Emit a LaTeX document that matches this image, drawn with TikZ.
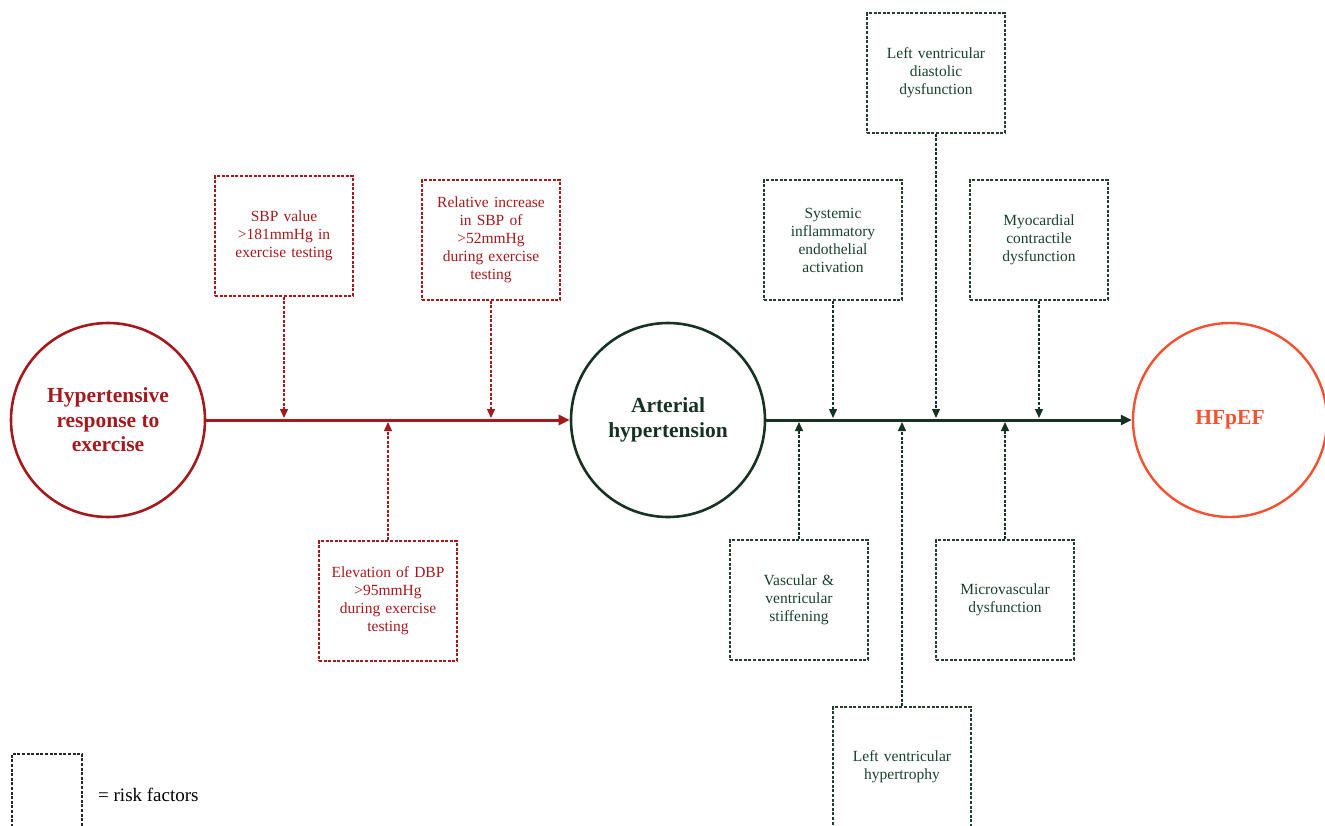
\documentclass[tikz,border=0pt]{standalone}
\usepackage{fontspec}
\setmainfont{Liberation Serif}
\usetikzlibrary{arrows.meta}
\definecolor{rd}{RGB}{163,26,30}
\definecolor{gr}{RGB}{22,50,34}
\definecolor{grt}{RGB}{24,64,44}
\definecolor{org}{RGB}{242,82,50}
\begin{document}
\begin{tikzpicture}[x=1pt,y=-1pt,
  big/.style={circle, draw, line width=2.6pt, minimum size=194pt, inner sep=0pt, align=center,
    font=\fontsize{21.5}{24.5}\selectfont\bfseries},
  rf/.style={draw, dash pattern=on 3pt off 1.6pt, line width=1.4pt, minimum width=138pt,
    minimum height=120pt, text width=128pt, align=center, inner sep=0pt,
    font=\fontsize{15.5}{18}\selectfont},
  rfred/.style={rf, draw=rd, text=rd},
  rfgrn/.style={rf, draw=gr!85!gray, text=grt},
  link/.style={dash pattern=on 3pt off 1.6pt, line width=1.4pt,
    -{Triangle[length=9pt,width=8pt]}},
  axis/.style={line width=3pt, -{Triangle[length=11pt,width=10pt]}}
]
\clip (0,0) rectangle (1325,825);
\useasboundingbox (0,0) rectangle (1325,825);

% main circles
\node[big, draw=rd, text=rd] (hre) at (108,420) {Hypertensive\\response to\\exercise};
\node[big, draw=gr, text=gr] (ah) at (668,420) {Arterial\\hypertension};
\node[big, draw=org, text=org, line width=2.4pt] (hf) at (1230,420) {HFpEF};

\draw[axis, rd] (hre) -- (ah);
\draw[axis, gr] (ah) -- (hf);

% reference lines for arrow tips
\coordinate (top) at (0,418);
\coordinate (bot) at (0,422);

% red risk factors
\node[rfred] (sbp) at (284,236) {SBP value\\>181mmHg in\\exercise testing};
\node[rfred] (rel) at (491,240) {Relative increase\\in SBP of\\>52mmHg\\during exercise\\testing};
\node[rfred] (dbp) at (388,601) {Elevation of DBP\\>95mmHg\\during exercise\\testing};

\draw[link, rd] (sbp.south) -- (sbp.south |- top);
\draw[link, rd] (rel.south) -- (rel.south |- top);
\draw[link, rd] (dbp.north) -- (dbp.north |- bot);

% green risk factors
\node[rfgrn] (lvdd) at (936,73) {Left ventricular\\diastolic\\dysfunction};
\node[rfgrn] (sys) at (833,240) {Systemic\\inflammatory\\endothelial\\activation};
\node[rfgrn] (myo) at (1039,240) {Myocardial\\contractile\\dysfunction};
\node[rfgrn] (vas) at (799,600) {Vascular \&\\ventricular\\stiffening};
\node[rfgrn] (mic) at (1005,600) {Microvascular\\dysfunction};
\node[rfgrn] (lvh) at (902,767) {Left ventricular\\hypertrophy};

\draw[link, gr] (lvdd.south) -- (lvdd.south |- top);
\draw[link, gr] (sys.south) -- (sys.south |- top);
\draw[link, gr] (myo.south) -- (myo.south |- top);
\draw[link, gr] (vas.north) -- (vas.north |- bot);
\draw[link, gr] (mic.north) -- (mic.north |- bot);
\draw[link, gr] (lvh.north) -- (lvh.north |- bot);

% legend
\node[draw=black!85, dash pattern=on 3pt off 1.6pt, line width=1.4pt, minimum width=70pt,
  minimum height=80pt, inner sep=0pt] (leg) at (47,794) {};
\node[anchor=west, font=\fontsize{19}{22}\selectfont, inner sep=0pt] (legt) at (98,795) {= risk factors};
\end{tikzpicture}
\end{document}
